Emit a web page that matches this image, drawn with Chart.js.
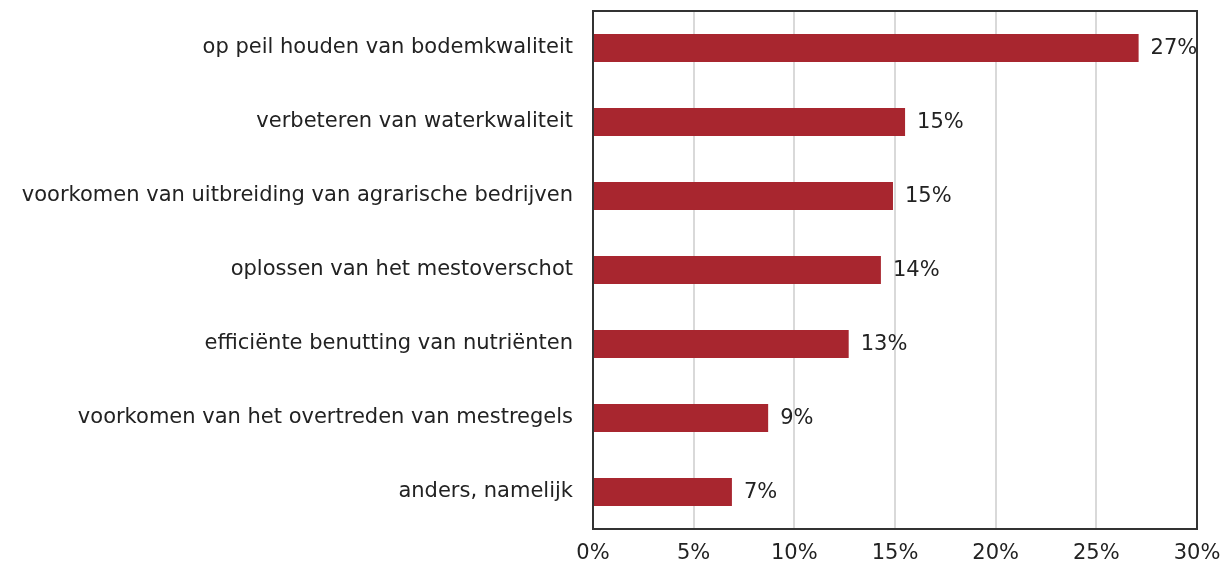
<!DOCTYPE html>
<html>
<head>
<meta charset="utf-8">
<script src="https://cdn.jsdelivr.net/npm/chart.js@4"></script>
<style>
html,body{margin:0;padding:0;background:#fff;}
#wrap{width:1230px;height:568px;position:relative;}
</style>
</head>
<body>
<div id="wrap"><canvas id="c" width="1230" height="568"></canvas></div>
<script>
const categories = [
  "op peil houden van bodemkwaliteit",
  "verbeteren van waterkwaliteit",
  "voorkomen van uitbreiding van agrarische bedrijven",
  "oplossen van het mestoverschot",
  "efficiënte benutting van nutriënten",
  "voorkomen van het overtreden van mestregels",
  "anders, namelijk"
];
const values = [27.1, 15.5, 14.9, 14.3, 12.7, 8.7, 6.9];
const valueLabels = ["27%", "15%", "15%", "14%", "13%", "9%", "7%"];
const xTicks = [0, 5, 10, 15, 20, 25, 30];

const FONT = "DejaVu Sans";
const FS = 21;

const frame = {
  id: 'frame',
  afterDatasetsDraw(chart) {
    const {ctx, chartArea: a} = chart;
    ctx.save();
    ctx.strokeStyle = '#333';
    ctx.lineWidth = 2;
    ctx.strokeRect(a.left, a.top, a.right - a.left, a.bottom - a.top);
    ctx.restore();
  }
};
const labelsPlugin = {
  id: 'vlabels',
  afterDraw(chart) {
    const {ctx} = chart;
    const meta = chart.getDatasetMeta(0);
    ctx.save();
    ctx.font = FS + "px " + FONT;
    ctx.fillStyle = '#222';
    ctx.textBaseline = 'middle';
    ctx.textAlign = 'left';
    meta.data.forEach((bar, i) => {
      ctx.fillText(valueLabels[i], bar.x + 12, bar.y + 1);
    });
    ctx.restore();
  }
};

new Chart(document.getElementById('c'), {
  type: 'bar',
  data: {
    labels: categories,
    datasets: [{
      data: values,
      backgroundColor: '#A8262F',
      borderWidth: 0,
      barPercentage: 0.38,
      categoryPercentage: 1.0
    }]
  },
  options: {
    indexAxis: 'y',
    responsive: false,
    animation: false,
    devicePixelRatio: 1,
    layout: {padding: {left: 0, top: 11, right: 33, bottom: 0}},
    plugins: {legend: {display: false}, tooltip: {enabled: false}},
    scales: {
      x: {
        min: 0, max: 30,
        afterBuildTicks(s) { s.ticks = xTicks.map(v => ({value: v})); },
        afterFit(s) { s.height = 39; s.paddingLeft = 0; s.paddingRight = 0; },
        grid: {color: '#d9d9d9', lineWidth: 2, drawTicks: false},
        border: {display: false},
        ticks: {
          padding: 12,
          color: '#222',
          maxRotation: 0,
          font: {family: FONT, size: FS},
          callback: v => v + '%'
        }
      },
      y: {
        afterFit(s) { s.width = 593; s.paddingTop = 0; s.paddingBottom = 0; },
        grid: {display: false, drawTicks: false},
        border: {display: false},
        ticks: {
          padding: 20,
          color: '#222',
          font: {family: FONT, size: FS}
        }
      }
    }
  },
  plugins: [frame, labelsPlugin]
});
</script>
</body>
</html>
